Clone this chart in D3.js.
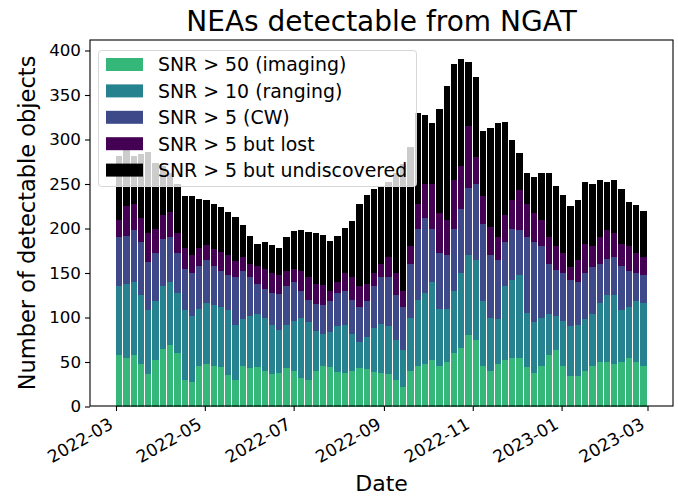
<!DOCTYPE html>
<html>
<head>
<meta charset="utf-8">
<script src="https://cdn.jsdelivr.net/npm/d3@7"></script>
<style>
    body { margin: 0; background: #fff; }
    text { font-family: "DejaVu Sans", sans-serif; fill: #000; }
</style>
</head>
<body>
<script>
// one bar per 5 days, starting 2022-03-01
var startDate = "2022-03-01";
var binDays = 5;

// number of objects above each threshold (cumulative)
var totalWithUndiscovered = [282, 288, 281, 284, 286, 274, 270, 262, 250, 237, 236, 233, 232, 228, 224, 218, 213, 204, 192,
    183, 185, 182, 178, 190, 197, 198, 196, 195, 193, 186, 192, 201, 208, 228, 238, 244, 248, 252, 262, 272, 292, 330, 328,
    318, 334, 360, 385, 390, 387, 370, 310, 313, 318, 320, 300, 285, 262, 258, 262, 262, 248, 238, 225, 232, 252, 250, 254,
    252, 254, 244, 230, 226, 220];
var snr5WithLost = [210, 225, 228, 212, 195, 200, 215, 218, 195, 178, 170, 178, 182, 177, 174, 170, 164, 168, 160,
    158, 155, 150, 148, 152, 155, 152, 145, 138, 136, 130, 140, 150, 145, 135, 138, 150, 160, 168, 150, 130, 180, 228, 250,
    250, 217, 210, 255, 270, 315, 280, 236, 202, 191, 215, 232, 243, 228, 217, 210, 191, 180, 172, 157, 165, 183, 180, 191,
    198, 195, 183, 180, 172, 168];
var snr5Cw = [190, 192, 198, 185, 162, 172, 188, 190, 172, 155, 150, 158, 165, 158, 152, 148, 145, 152, 145,
    138, 132, 128, 126, 135, 140, 130, 120, 115, 114, 118, 128, 130, 120, 112, 118, 135, 146, 145, 125, 112, 160, 200, 212,
    200, 172, 170, 200, 222, 245, 250, 205, 170, 165, 185, 200, 198, 190, 185, 180, 160, 153, 150, 142, 140, 150, 157, 160,
    166, 168, 158, 152, 150, 148];
var snr10Ranging = [135, 138, 140, 125, 108, 118, 135, 140, 128, 108, 102, 110, 116, 114, 112, 108, 92, 98, 102,
    104, 100, 92, 86, 92, 96, 100, 95, 85, 82, 84, 90, 92, 82, 72, 78, 88, 93, 90, 75, 63, 100, 120, 128,
    140, 110, 110, 130, 150, 170, 165, 118, 100, 98, 135, 142, 148, 105, 95, 100, 104, 102, 96, 90, 92, 98, 104, 116,
    125, 125, 108, 112, 118, 116];
var snr50Imaging = [58, 55, 58, 48, 36, 52, 65, 69, 60, 30, 27, 45, 48, 45, 44, 35, 30, 46, 43,
    44, 40, 37, 38, 43, 40, 32, 30, 40, 46, 44, 39, 38, 40, 43, 42, 39, 38, 36, 30, 22, 40, 45, 48,
    52, 46, 50, 60, 66, 80, 75, 45, 40, 48, 52, 54, 55, 44, 38, 45, 58, 63, 45, 34, 34, 40, 45, 50,
    50, 48, 50, 55, 50, 46];

var legendLabels = ["SNR > 50 (imaging)", "SNR > 10 (ranging)", "SNR > 5 (CW)", "SNR > 5 but lost", "SNR > 5 but undiscovered"];
var yTicks = [0, 50, 100, 150, 200, 250, 300, 350, 400];
var xTickDates = ["2022-03-01", "2022-05-01", "2022-07-01", "2022-09-01", "2022-11-01", "2023-01-01", "2023-03-01"];

function main() {
    var W = 678, H = 496;
    var frame = {left: 90, right: 673, top: 40, bottom: 406};
    var colors = ["#35b779", "#26828e", "#3e4989", "#440154", "#000000"];
    var series = [snr50Imaging, snr10Ranging, snr5Cw, snr5WithLost, totalWithUndiscovered];

    var parse = d3.utcParse("%Y-%m-%d");
    var t0 = parse(startDate);
    var binStart = function (i) { return d3.utcDay.offset(t0, i * binDays); };

    var svg = d3.select("body").append("svg")
        .attr("width", W)
        .attr("height", H);

    var x = d3.scaleUtc()
        .domain([parse("2022-03-01"), parse("2023-03-01")])
        .range([116, 647.5]);
    var y = d3.scaleLinear()
        .domain([0, 400])
        .range([406.5, 50.5]);

    // bars, biggest first so the smaller counts sit on top; 1px white seam between bins
    var plot = svg.append("g").attr("class", "bars").attr("shape-rendering", "crispEdges");
    for (var s = series.length - 1; s >= 0; s--) {
        plot.append("g")
            .attr("fill", colors[s])
            .selectAll("rect")
            .data(series[s])
            .enter()
            .append("rect")
            .attr("x", function (d, i) { return Math.round(x(binStart(i))); })
            .attr("width", function (d, i) { return Math.round(x(binStart(i + 1))) - Math.round(x(binStart(i))) - 1; })
            .attr("y", function (d) { return y(d); })
            .attr("height", function (d) { return y(0) - y(d); });
    }

    // frame
    svg.append("rect")
        .attr("x", frame.left)
        .attr("y", frame.top)
        .attr("width", frame.right - frame.left)
        .attr("height", frame.bottom - frame.top)
        .attr("fill", "none")
        .attr("stroke", "#000")
        .attr("stroke-width", 1.1);

    // y axis
    var yAxis = svg.append("g")
        .attr("transform", "translate(" + frame.left + ",0)")
        .call(d3.axisLeft(y).tickValues(yTicks).tickSize(5).tickPadding(4));
    yAxis.select(".domain").remove();
    yAxis.selectAll("line").attr("stroke-width", 1.1);
    yAxis.selectAll("text").attr("font-size", "16.7px").attr("font-family", "DejaVu Sans");

    // x axis, labels rotated like autofmt_xdate
    var xAxis = svg.append("g")
        .attr("transform", "translate(0," + frame.bottom + ")")
        .call(d3.axisBottom(x).tickValues(xTickDates.map(parse)).tickSize(5).tickFormat(d3.utcFormat("%Y-%m")));
    xAxis.select(".domain").remove();
    xAxis.selectAll("line").attr("stroke-width", 1.1);
    xAxis.selectAll("text")
        .attr("font-size", "17.2px")
        .attr("font-family", "DejaVu Sans")
        .attr("text-anchor", "end")
        .attr("y", 0)
        .attr("dy", "0.78em")
        .attr("transform", "translate(-9,10) rotate(-30)");

    // titles
    svg.append("text")
        .attr("x", (frame.left + frame.right) / 2)
        .attr("y", 31)
        .attr("text-anchor", "middle")
        .attr("font-size", "28px")
        .text("NEAs detectable from NGAT");
    svg.append("text")
        .attr("x", (frame.left + frame.right) / 2)
        .attr("y", 491)
        .attr("text-anchor", "middle")
        .attr("font-size", "22px")
        .text("Date");
    svg.append("text")
        .attr("transform", "translate(35," + (frame.top + frame.bottom) / 2 + ") rotate(-90)")
        .attr("text-anchor", "middle")
        .attr("font-size", "22.5px")
        .text("Number of detectable objects");

    // legend
    var legend = svg.append("g").attr("class", "legend");
    legend.append("rect")
        .attr("x", 98.5)
        .attr("y", 50.5)
        .attr("width", 318)
        .attr("height", 136)
        .attr("rx", 3)
        .attr("fill", "#fff")
        .attr("fill-opacity", 0.8)
        .attr("stroke", "#d6d6d6");
    var rows = legend.selectAll(".row")
        .data(legendLabels)
        .enter()
        .append("g")
        .attr("transform", function (d, i) { return "translate(0," + (64.5 + i * 26.4) + ")"; });
    rows.append("rect")
        .attr("x", 106)
        .attr("y", -6.5)
        .attr("width", 37)
        .attr("height", 13)
        .attr("fill", function (d, i) { return colors[i]; });
    rows.append("text")
        .attr("x", 158)
        .attr("dy", "0.36em")
        .attr("font-size", "18.9px")
        .text(function (d) { return d; });
}

main();
</script>
</body>
</html>
